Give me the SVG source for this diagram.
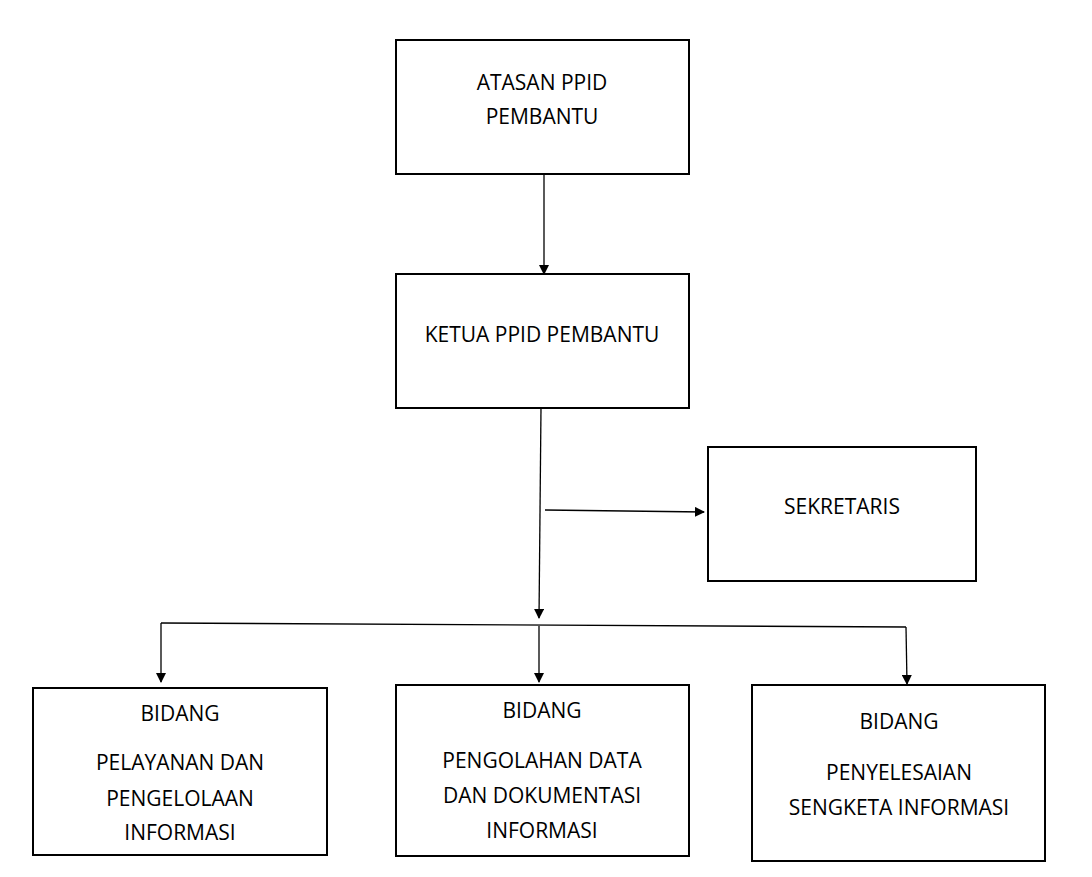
<svg xmlns="http://www.w3.org/2000/svg" width="1092" height="877" viewBox="0 0 1092 877">
<style>
rect{fill:#fff;stroke:#000;stroke-width:2}
text{font-family:"Open Sans","Liberation Sans",sans-serif;font-size:21px;text-anchor:middle;fill:#000}
.c line{stroke:#000;stroke-width:1.3}
</style>
<defs><marker id="a" markerWidth="10" markerHeight="10" refX="9" refY="5" orient="auto" markerUnits="userSpaceOnUse"><path d="M0,0L10,5L0,10z" fill="#000"/></marker></defs>
<rect width="1092" height="877" style="stroke:none"/>
<g class="c">
<line x1="544" y1="170" x2="544" y2="274" marker-end="url(#a)"/>
<line x1="541" y1="408" x2="539" y2="618" marker-end="url(#a)"/>
<line x1="545" y1="510" x2="704" y2="512" marker-end="url(#a)"/>
<line x1="161" y1="623" x2="906" y2="627"/>
<line x1="161" y1="623" x2="161" y2="682" marker-end="url(#a)"/>
<line x1="539" y1="626" x2="539" y2="682" marker-end="url(#a)"/>
<line x1="906" y1="627" x2="907" y2="684" marker-end="url(#a)"/>
</g>
<g id="atasan"><rect x="396" y="40" width="293" height="134"/><text x="542" y="90">ATASAN PPID</text><text x="542" y="124">PEMBANTU</text></g>
<g id="ketua"><rect x="396" y="274" width="293" height="134"/><text x="542" y="342">KETUA PPID PEMBANTU</text></g>
<g id="sekretaris"><rect x="708" y="447" width="268" height="134"/><text x="842" y="514">SEKRETARIS</text></g>
<g id="bidang1"><rect x="33" y="688" width="294" height="167"/><text x="180" y="721">BIDANG</text><text x="180" y="770">PELAYANAN DAN</text><text x="180" y="806">PENGELOLAAN</text><text x="180" y="840">INFORMASI</text></g>
<g id="bidang2"><rect x="396" y="685" width="293" height="171"/><text x="542" y="718">BIDANG</text><text x="542" y="768">PENGOLAHAN DATA</text><text x="542" y="803">DAN DOKUMENTASI</text><text x="542" y="838">INFORMASI</text></g>
<g id="bidang3"><rect x="752" y="685" width="293" height="176"/><text x="899" y="729">BIDANG</text><text x="899" y="780">PENYELESAIAN</text><text x="899" y="815">SENGKETA INFORMASI</text></g>
</svg>
